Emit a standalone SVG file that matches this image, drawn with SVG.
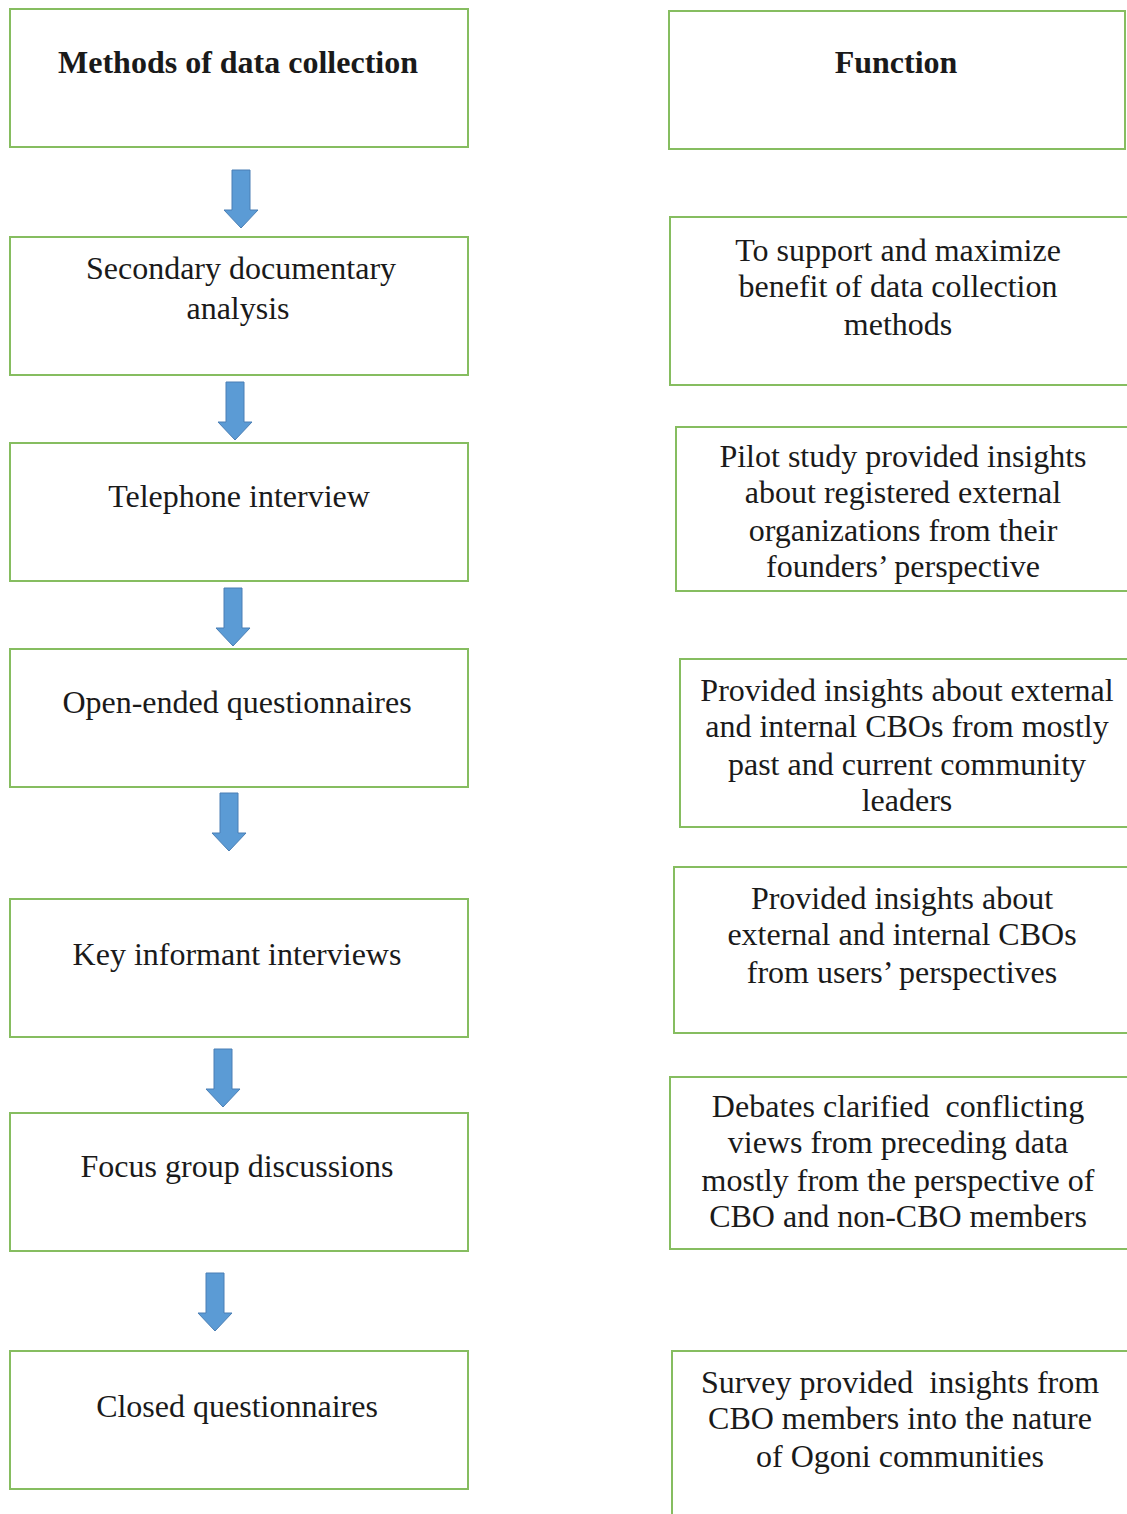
<svg xmlns="http://www.w3.org/2000/svg" width="1127" height="1514" viewBox="0 0 1127 1514">
<style>
.box{fill:#fff;stroke:#86bd60;stroke-width:2}
text{font-family:'Liberation Serif','Times New Roman','DejaVu Serif',serif;font-size:32px;fill:#1a1a1a;text-anchor:middle;white-space:pre}
.b{font-weight:bold}
.arr{fill:#5b9bd5;stroke:#4a7fb5;stroke-width:1}
</style>
<defs>
<path id="ar" d="M-9,0 H9 V40 H17 L0,58 L-17,40 H-9 Z"/>
</defs>
<rect width="1127" height="1514" fill="#fff"/>
<g id="connectors">
<use href="#ar" class="arr" x="241" y="170"/>
<use href="#ar" class="arr" x="235" y="382"/>
<use href="#ar" class="arr" x="233" y="588"/>
<use href="#ar" class="arr" x="229" y="793"/>
<use href="#ar" class="arr" x="223" y="1049"/>
<use href="#ar" class="arr" x="215" y="1273"/>
</g>
<g font-family="Liberation Serif, serif" transform="translate(0,2)">
<g id="m0"><rect class="box" x="10" y="7" width="458" height="138"/><text class="b" x="238" y="71">Methods of data collection</text></g>
<g id="m1"><rect class="box" x="10" y="235" width="458" height="138"/><text x="241" y="277">Secondary documentary</text><text x="238" y="317">analysis</text></g>
<g id="m2"><rect class="box" x="10" y="441" width="458" height="138"/><text x="239" y="505">Telephone interview</text></g>
<g id="m3"><rect class="box" x="10" y="647" width="458" height="138"/><text x="237" y="711">Open-ended questionnaires</text></g>
<g id="m4"><rect class="box" x="10" y="897" width="458" height="138"/><text x="237" y="963">Key informant interviews</text></g>
<g id="m5"><rect class="box" x="10" y="1111" width="458" height="138"/><text x="237" y="1175">Focus group discussions</text></g>
<g id="m6"><rect class="box" x="10" y="1349" width="458" height="138"/><text x="237" y="1415">Closed questionnaires</text></g>
<g id="f0"><rect class="box" x="669" y="9" width="456" height="138"/><text class="b" x="896" y="71">Function</text></g>
<g id="f1"><rect class="box" x="670" y="215" width="470" height="168"/><text x="898" y="259">To support and maximize</text><text x="898" y="295">benefit of data collection</text><text x="898" y="333">methods</text></g>
<g id="f2"><rect class="box" x="676" y="425" width="470" height="164"/><text x="903" y="465">Pilot study provided insights</text><text x="903" y="501">about registered external</text><text x="903" y="539">organizations from their</text><text x="903" y="575">founders’ perspective</text></g>
<g id="f3"><rect class="box" x="680" y="657" width="470" height="168"/><text x="907" y="699">Provided insights about external</text><text x="907" y="735">and internal CBOs from mostly</text><text x="907" y="773">past and current community</text><text x="907" y="809">leaders</text></g>
<g id="f4"><rect class="box" x="674" y="865" width="470" height="166"/><text x="902" y="907">Provided insights about</text><text x="902" y="943">external and internal CBOs</text><text x="902" y="981">from users’ perspectives</text></g>
<g id="f5"><rect class="box" x="670" y="1075" width="470" height="172"/><text x="898" y="1115">Debates clarified  conflicting</text><text x="898" y="1151">views from preceding data</text><text x="898" y="1189">mostly from the perspective of</text><text x="898" y="1225">CBO and non-CBO members</text></g>
<g id="f6"><rect class="box" x="672" y="1349" width="470" height="200"/><text x="900" y="1391">Survey provided  insights from</text><text x="900" y="1427">CBO members into the nature</text><text x="900" y="1465">of Ogoni communities</text></g>
</g>
</svg>
